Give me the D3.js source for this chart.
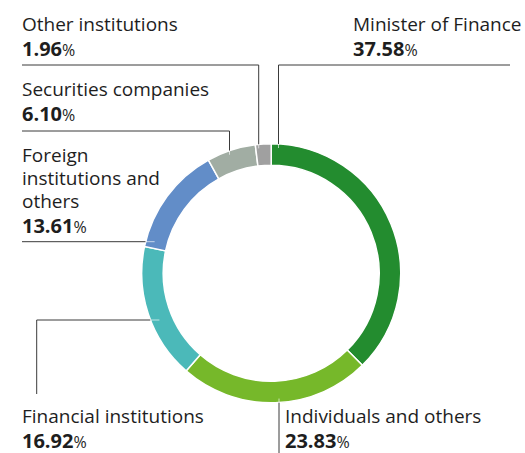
<!DOCTYPE html>
<html>
<head>
<meta charset="utf-8">
<script src="https://cdn.jsdelivr.net/npm/d3@7"></script>
<style>
  html, body { margin: 0; padding: 0; background: #fff; }
  svg { display: block; }
  text { font-family: "Open Sans", "Noto Sans", sans-serif; fill: #1e1e1e; }
</style>
</head>
<body>
<svg id="chart" width="525" height="453"></svg>
<script>
// Shareholder composition (% of shares), clockwise from 12 o'clock
const categories = [
  "Minister of Finance",
  "Individuals and others",
  "Financial institutions",
  "Foreign institutions and others",
  "Securities companies",
  "Other institutions"
];
const shares = [37.58, 23.83, 16.92, 13.61, 6.10, 1.96];
const colors = ["#238c2f", "#76b82a", "#4bb9b9", "#628dc8", "#a1ada3", "#a0a0a0"];

const svg = d3.select("#chart");
const cx = 271.2, cy = 273.3;
const outerR = 129.5, innerR = 108;

const data = categories.map((c, i) => ({ name: c, value: shares[i], color: colors[i] }));

const pie = d3.pie().sort(null).value(d => d.value);
const arc = d3.arc().innerRadius(innerR).outerRadius(outerR);

const ring = svg.append("g").attr("transform", `translate(${cx},${cy})`);
ring.selectAll("path")
  .data(pie(data))
  .join("path")
  .attr("d", arc)
  .attr("fill", d => d.data.color)
  .attr("stroke", "#fff")
  .attr("stroke-width", 1.5);

// Label placement and leader-line routes
const layout = {
  "Other institutions":      { x: 22, lines: ["Other institutions"], y0: 30.5, route: { type: "down", y: 65, from: 22, to: 258.7 } },
  "Minister of Finance":     { x: 353, lines: ["Minister of Finance"], y0: 30.5, route: { type: "down", y: 65, from: 510, to: 278.5 } },
  "Securities companies":    { x: 22, lines: ["Securities companies"], y0: 96, route: { type: "down", y: 131, from: 22, to: 229.5 } },
  "Foreign institutions and others": { x: 22, lines: ["Foreign", "institutions and", "others"], y0: 161.7, route: { type: "right", y: 241.7, from: 22 } },
  "Financial institutions":  { x: 22, lines: ["Financial institutions"], y0: 423.3, route: { type: "upright", x: 36.7, yStart: 394, y: 320 } },
  "Individuals and others":  { x: 285, lines: ["Individuals and others"], y0: 423.3, route: { type: "up", x: 279, yStart: 453 } }
};

const lineH = 23.3, numGap = 25;
const lineColor = "#3a3a3a";
const leaders = svg.append("g").attr("fill", "none");
const labels = svg.append("g");

data.forEach(d => {
  const L = layout[d.name];
  const r = L.route;
  let pts, tick;
  if (r.type === "down") {
    const yHit = cy - Math.sqrt(outerR * outerR - (r.to - cx) ** 2);
    pts = [[r.from, r.y], [r.to, r.y], [r.to, yHit]];
    tick = [[r.to, yHit], [r.to, yHit + 4]];
  } else if (r.type === "right") {
    const xHit = cx - Math.sqrt(outerR * outerR - (r.y - cy) ** 2);
    pts = [[r.from, r.y], [xHit, r.y]];
    tick = [[xHit, r.y], [xHit + 9, r.y]];
  } else if (r.type === "upright") {
    const xHit = cx - Math.sqrt(outerR * outerR - (r.y - cy) ** 2);
    pts = [[r.x, r.yStart], [r.x, r.y], [xHit, r.y]];
    tick = [[xHit, r.y], [xHit + 9, r.y]];
  } else {
    const yHit = cy + Math.sqrt(outerR * outerR - (r.x - cx) ** 2);
    pts = [[r.x, r.yStart], [r.x, yHit]];
    tick = [[r.x, yHit], [r.x, yHit - 4]];
  }
  leaders.append("path")
    .attr("d", d3.line()(pts))
    .attr("stroke", lineColor)
    .attr("stroke-width", 1);
  leaders.append("path")
    .attr("d", d3.line()(tick))
    .attr("stroke", "#ffffff")
    .attr("stroke-opacity", 0.65)
    .attr("stroke-width", 1);

  const t = labels.append("g");
  L.lines.forEach((ln, i) => {
    t.append("text")
      .attr("x", L.x)
      .attr("y", L.y0 + i * lineH)
      .attr("font-size", 19)
      .text(ln);
  });
  const num = t.append("text")
    .attr("x", L.x)
    .attr("y", L.y0 + (L.lines.length - 1) * lineH + numGap);
  num.append("tspan")
    .attr("font-size", 20)
    .attr("font-weight", 700)
    .text(d.value.toFixed(2));
  num.append("tspan")
    .attr("font-size", 16)
    .text("%");
});
</script>
</body>
</html>
